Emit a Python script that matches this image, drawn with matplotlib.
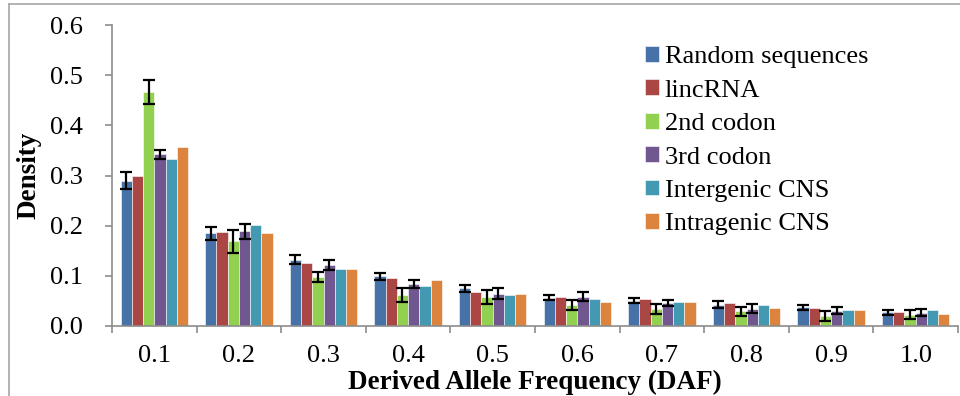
import matplotlib
matplotlib.use("Agg")
import matplotlib.pyplot as plt
import numpy as np
from matplotlib.lines import Line2D

plt.rcParams['font.family'] = ['Liberation Serif', 'DejaVu Serif']

daf = ['0.1', '0.2', '0.3', '0.4', '0.5', '0.6', '0.7', '0.8', '0.9', '1.0']
series = ['Random sequences', 'lincRNA', '2nd codon', '3rd codon',
          'Intergenic CNS', 'Intragenic CNS']

random_seq = [0.290, 0.185, 0.132, 0.099, 0.075, 0.056, 0.050, 0.042, 0.037, 0.027]
random_err = [0.016, 0.013, 0.009, 0.007, 0.007, 0.005, 0.005, 0.007, 0.005, 0.005]
lincrna = [0.300, 0.187, 0.125, 0.095, 0.068, 0.057, 0.053, 0.046, 0.035, 0.027]
codon2 = [0.467, 0.169, 0.097, 0.061, 0.058, 0.041, 0.034, 0.029, 0.019, 0.022]
codon2_err = [0.024, 0.023, 0.010, 0.014, 0.014, 0.010, 0.010, 0.009, 0.010, 0.009]
codon3 = [0.342, 0.189, 0.121, 0.083, 0.064, 0.058, 0.046, 0.034, 0.030, 0.026]
codon3_err = [0.009, 0.015, 0.010, 0.008, 0.011, 0.009, 0.006, 0.009, 0.007, 0.007]
intergenic = [0.333, 0.201, 0.114, 0.080, 0.062, 0.054, 0.047, 0.041, 0.031, 0.031]
intragenic = [0.357, 0.185, 0.113, 0.091, 0.064, 0.047, 0.047, 0.035, 0.031, 0.023]

values = [random_seq, lincrna, codon2, codon3, intergenic, intragenic]
errors = [random_err, None, codon2_err, codon3_err, None, None]
colors = ['#4672A8', '#AA4644', '#92D050', '#70578F', '#4299B1', '#DC843D']

fig = plt.figure(figsize=(9.6, 3.96), dpi=100)
ax = fig.add_axes([112/960, 1-326/396, 846/960, 301/396])

x = np.arange(len(daf))
bar_w = 0.1325
for i, (vals, err, c, name) in enumerate(zip(values, errors, colors, series)):
    pos = x + (i - 2.5) * bar_w
    ax.bar(pos, vals, bar_w, color=c, edgecolor='white', linewidth=0.4, label=name, zorder=2)
    if err is not None:
        ax.errorbar(pos, vals, yerr=err, fmt='none', ecolor='black', elinewidth=1.6,
                    capsize=4.3, capthick=1.6, zorder=3)

ax.set_xlim(-0.5, len(daf) - 0.5)
ax.set_ylim(0, 0.6)
ax.set_yticks(np.arange(0, 0.61, 0.1))
ax.set_yticklabels(['%.1f' % v for v in np.arange(0, 0.61, 0.1)], fontsize=19)
ax.set_xticks(np.arange(-0.5, len(daf)), minor=False)
ax.set_xticklabels([])
ax.set_xticks(x, minor=True)
ax.set_xticklabels(daf, minor=True, fontsize=19)

grey = '#8c8c8c'
for s in ['top', 'right']:
    ax.spines[s].set_visible(False)
for s in ['left', 'bottom']:
    ax.spines[s].set_color(grey)
    ax.spines[s].set_linewidth(1.2)
ax.tick_params(axis='y', direction='out', length=5, width=1.2, color=grey, pad=16)
ax.tick_params(axis='x', which='major', direction='out', length=5, width=1.2, color=grey)
ax.tick_params(axis='x', which='minor', length=0, pad=14)

ax.set_ylabel('Density', fontsize=19.5, fontweight='bold', va='center')
ax.yaxis.set_label_coords(-(112 - 29) / 846, 0.5)
ax.set_xlabel('Derived Allele Frequency (DAF)', fontsize=19.5, fontweight='bold', va='center')
ax.xaxis.set_label_coords(0.5, -(382.5 - 326) / 301)

ax.legend(loc='upper left', bbox_to_anchor=(645/960, 1 - 46/396), bbox_transform=fig.transFigure,
          frameon=False, fontsize=19, handlelength=0.53, handleheight=0.53,
          handletextpad=0.22, labelspacing=0.43, borderpad=0, borderaxespad=0)

# outer chart border (only top and left visible in the crop)
fig.add_artist(Line2D([9/960, 9/960], [0, 1 - 4/396], transform=fig.transFigure,
                      color='#a6a6a6', lw=1.2))
fig.add_artist(Line2D([9/960, 1], [1 - 4/396, 1 - 4/396], transform=fig.transFigure,
                      color='#a6a6a6', lw=1.2))

fig.savefig('out.png', dpi=100)
